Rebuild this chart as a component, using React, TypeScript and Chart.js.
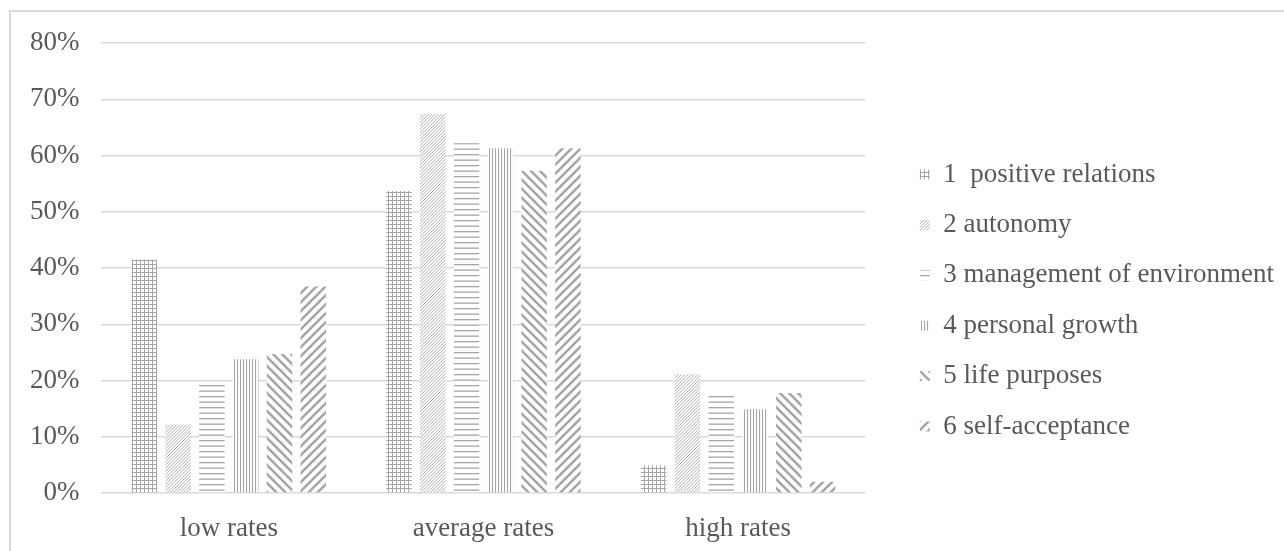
import React, { useEffect, useRef } from "react";
import { Chart, registerables } from "chart.js";

Chart.register(...registerables);

// Categories on the x axis
const categories = ["low rates", "average rates", "high rates"];

// Share of respondents (%) per scale, in category order
const positiveRelations = [41.5, 53.7, 4.9];
const autonomy = [12.2, 67.4, 21.1];
const managementOfEnvironment = [19.8, 62.2, 17.8];
const personalGrowth = [23.8, 61.3, 14.9];
const lifePurposes = [24.7, 57.3, 17.8];
const selfAcceptance = [36.7, 61.3, 2.0];

const seriesLabels = [
  "1  positive relations",
  "2 autonomy",
  "3 management of environment",
  "4 personal growth",
  "5 life purposes",
  "6 self-acceptance",
];

// Y axis ticks (percent)
const yTicks = [0, 10, 20, 30, 40, 50, 60, 70, 80];

const INK = "#a6a6a6";
const TEXT = "#595959";
const FONT = "'Liberation Serif', 'Times New Roman', serif";

type Painter = (g: CanvasRenderingContext2D, w: number, h: number) => void;

function makePattern(w: number, h: number, paint: Painter): CanvasPattern | string {
  const c = document.createElement("canvas");
  c.width = w;
  c.height = h;
  const g = c.getContext("2d");
  if (!g) return INK;
  g.fillStyle = "#ffffff";
  g.fillRect(0, 0, w, h);
  g.fillStyle = INK;
  g.strokeStyle = INK;
  paint(g, w, h);
  return g.createPattern(c, "repeat") || INK;
}

// diagonal stripes; dir = 1 for "/" and -1 for "\"
function diagonal(period: number, tile: number, width: number, dir: 1 | -1): Painter {
  return (g) => {
    g.lineWidth = width;
    g.lineCap = "butt";
    for (let c = -2 * tile; c <= 3 * tile; c += period) {
      g.beginPath();
      if (dir === 1) {
        g.moveTo(c, 0 - tile);
        g.lineTo(c - 3 * tile, 2 * tile);
      } else {
        g.moveTo(c, 0 - tile);
        g.lineTo(c + 3 * tile, 2 * tile);
      }
      g.stroke();
    }
  };
}

function buildPatterns() {
  const grid = makePattern(4, 4, (g) => {
    g.fillRect(0, 0, 4, 1);
    g.fillRect(0, 0, 1, 4);
  });
  const lightUp = makePattern(13, 13, diagonal(3.25, 13, 0.9, 1));
  const horiz = makePattern(4, 11, (g) => {
    g.fillRect(0, 0, 4, 1.3);
    g.fillRect(0, 5.5, 4, 1.3);
  });
  const vert = makePattern(3, 4, (g) => {
    g.fillRect(0, 0, 1.1, 4);
  });
  const wideDown = makePattern(9, 9, diagonal(9, 9, 2.6, -1));
  const wideUp = makePattern(9, 9, diagonal(9, 9, 2.6, 1));
  return [grid, lightUp, horiz, vert, wideDown, wideUp];
}

export default function App() {
  const canvasRef = useRef<HTMLCanvasElement | null>(null);

  useEffect(() => {
    const canvas = canvasRef.current;
    if (!canvas) return;
    const fills = buildPatterns();
    const seriesValues = [
      positiveRelations,
      autonomy,
      managementOfEnvironment,
      personalGrowth,
      lifePurposes,
      selfAcceptance,
    ];

    const chart = new Chart(canvas, {
      type: "bar",
      data: {
        labels: categories,
        datasets: seriesValues.map((values, i) => ({
          label: seriesLabels[i],
          data: values,
          backgroundColor: fills[i] as any,
          borderWidth: 0,
          barPercentage: 0.754,
          categoryPercentage: 0.796,
        })),
      },
      options: {
        responsive: false,
        animation: false,
        devicePixelRatio: 1,
        layout: { padding: { top: 43, bottom: 0, left: 8, right: 0 } },
        plugins: {
          tooltip: { enabled: false },
          legend: {
            position: "right",
            maxWidth: 600,
            title: {
              display: true,
              text: "",
              font: { size: 7, lineHeight: 1 },
              padding: 0,
            },
            labels: {
              boxWidth: 10,
              boxHeight: 10,
              padding: 23.4,
              color: TEXT,
              font: { family: FONT, size: 27 },
            },
          },
        },
        scales: {
          x: {
            grid: { display: false, drawTicks: false },
            border: { display: false },
            ticks: {
              color: TEXT,
              padding: 20,
              font: { family: FONT, size: 27 },
            },
            afterFit: (scale: any) => {
              scale.height = 58;
            },
          },
          y: {
            min: yTicks[0],
            max: yTicks[yTicks.length - 1],
            afterBuildTicks: (scale: any) => {
              scale.ticks = yTicks.map((v) => ({ value: v }));
            },
            grid: { color: "#d9d9d9", lineWidth: 1.5, drawTicks: false },
            border: { display: false },
            ticks: {
              color: TEXT,
              padding: 22,
              font: { family: FONT, size: 27 },
              callback: (v: any) => `${v}%`,
            },
          },
          gap: {
            type: "linear",
            position: "right",
            display: true,
            grid: { display: false, drawTicks: false },
            border: { display: false },
            ticks: { display: false },
            afterFit: (scale: any) => {
              scale.width = 31;
            },
          },
        },
      },
    } as any);

    return () => chart.destroy();
  }, []);

  return (
    <div
      style={{
        position: "fixed",
        left: 0,
        top: 0,
        width: 1284,
        height: 551,
        overflow: "hidden",
        background: "#ffffff",
      }}
    >
      <div
        style={{
          position: "absolute",
          left: 9,
          top: 10,
          width: 1400,
          height: 700,
          borderLeft: "2px solid #d9d9d9",
          borderTop: "2px solid #d9d9d9",
        }}
      />
      <canvas
        ref={canvasRef}
        width={1284}
        height={551}
        style={{ position: "absolute", left: 0, top: 0, width: 1284, height: 551 }}
      />
    </div>
  );
}
